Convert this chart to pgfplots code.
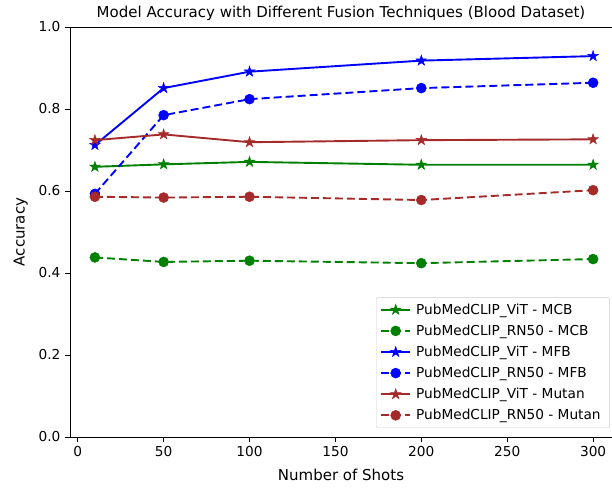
\documentclass[border=0pt]{standalone}
\usepackage{pgfplots}
\pgfplotsset{compat=1.18}
\usepackage{fontspec}
\setmainfont{DejaVu Sans}
\definecolor{mgreen}{RGB}{0,128,0}
\definecolor{mblue}{RGB}{0,0,255}
\definecolor{mbrown}{RGB}{165,42,42}
\pgfdeclareplotmark{fstar}{%
  \pgfpathmoveto{\pgfqpointpolar{90}{\pgfplotmarksize}}%
  \pgfpathlineto{\pgfqpointpolar{126}{0.382\pgfplotmarksize}}%
  \pgfpathlineto{\pgfqpointpolar{162}{\pgfplotmarksize}}%
  \pgfpathlineto{\pgfqpointpolar{198}{0.382\pgfplotmarksize}}%
  \pgfpathlineto{\pgfqpointpolar{234}{\pgfplotmarksize}}%
  \pgfpathlineto{\pgfqpointpolar{270}{0.382\pgfplotmarksize}}%
  \pgfpathlineto{\pgfqpointpolar{306}{\pgfplotmarksize}}%
  \pgfpathlineto{\pgfqpointpolar{342}{0.382\pgfplotmarksize}}%
  \pgfpathlineto{\pgfqpointpolar{18}{\pgfplotmarksize}}%
  \pgfpathlineto{\pgfqpointpolar{54}{0.382\pgfplotmarksize}}%
  \pgfpathclose
  \pgfusepathqfillstroke}
\begin{document}
\begin{tikzpicture}
\begin{axis}[
  name=ax,
  scale only axis,
  width=542pt, height=410pt,
  xmin=-4.5, xmax=311, ymin=0, ymax=1,
  axis x line*=bottom, axis y line*=left,
  axis line style={line width=0.9pt, -},
  xtick={0,50,100,150,200,250,300},
  ytick={0,0.2,0.4,0.6,0.8,1.0},
  yticklabel style={/pgf/number format/fixed,/pgf/number format/fixed zerofill,/pgf/number format/precision=1},
  /pgf/number format/assume math mode=true,
  tick style={black, line width=0.9pt},
  tick align=outside, major tick length=5pt,
  tick label style={font=\fontsize{13.7}{15}\selectfont},
  xticklabel style={yshift=-1pt},
  yticklabel style={xshift=-1pt},
  xlabel={Number of Shots}, ylabel={Accuracy},
  label style={font=\fontsize{15}{17}\selectfont},
  xlabel style={yshift=-5pt},
  ylabel style={yshift=4pt},
  title={Model Accuracy with Different Fusion Techniques (Blood Dataset)},
  title style={font=\fontsize{15}{17}\selectfont, yshift=-3pt},
  legend style={at={(rel axis cs:0.996,0.022)}, anchor=south east, font=\fontsize{13.7}{16}\selectfont, draw=black!20, rounded corners=2pt, row sep=5.2pt, inner xsep=4pt, inner ysep=4.5pt, nodes={inner xsep=5pt}},
  legend cell align=left,
  legend image code/.code={\draw[#1, mark repeat=2, mark phase=2] plot coordinates {(0pt,0pt) (14.5pt,0pt) (29pt,0pt)};},
  every axis plot/.append style={line width=1.9pt},
  clip=false,
]
\addplot[mgreen, mark=fstar, mark options={solid, mark size=5.5pt, line width=0.5pt}] coordinates {(10,0.659) (50,0.665) (100,0.671) (200,0.664) (300,0.664)};
\addlegendentry{PubMedCLIP\_ViT - MCB}
\addplot[mgreen, dash pattern=on 8pt off 4pt, mark=*, mark options={solid, mark size=5pt, line width=0.5pt}] coordinates {(10,0.438) (50,0.427) (100,0.430) (200,0.424) (300,0.434)};
\addlegendentry{PubMedCLIP\_RN50 - MCB}
\addplot[mblue, mark=fstar, mark options={solid, mark size=5.5pt, line width=0.5pt}] coordinates {(10,0.712) (50,0.851) (100,0.891) (200,0.918) (300,0.929)};
\addlegendentry{PubMedCLIP\_ViT - MFB}
\addplot[mblue, dash pattern=on 8pt off 4pt, mark=*, mark options={solid, mark size=5pt, line width=0.5pt}] coordinates {(10,0.593) (50,0.785) (100,0.824) (200,0.851) (300,0.864)};
\addlegendentry{PubMedCLIP\_RN50 - MFB}
\addplot[mbrown, mark=fstar, mark options={solid, mark size=5.5pt, line width=0.5pt}] coordinates {(10,0.724) (50,0.738) (100,0.719) (200,0.724) (300,0.726)};
\addlegendentry{PubMedCLIP\_ViT - Mutan}
\addplot[mbrown, dash pattern=on 8pt off 4pt, mark=*, mark options={solid, mark size=5pt, line width=0.5pt}] coordinates {(10,0.586) (50,0.584) (100,0.586) (200,0.578) (300,0.602)};
\addlegendentry{PubMedCLIP\_RN50 - Mutan}
\draw[line width=0.9pt] (rel axis cs:0,1) -- (rel axis cs:1,1);
\end{axis}
\pgfresetboundingbox
\path (ax.south west) ++(-70pt,-51pt) coordinate (bbsw);
\path (ax.north east) ++(0pt,27pt) coordinate (bbne);
\useasboundingbox (bbsw) rectangle (bbne);
\end{tikzpicture}
\end{document}
